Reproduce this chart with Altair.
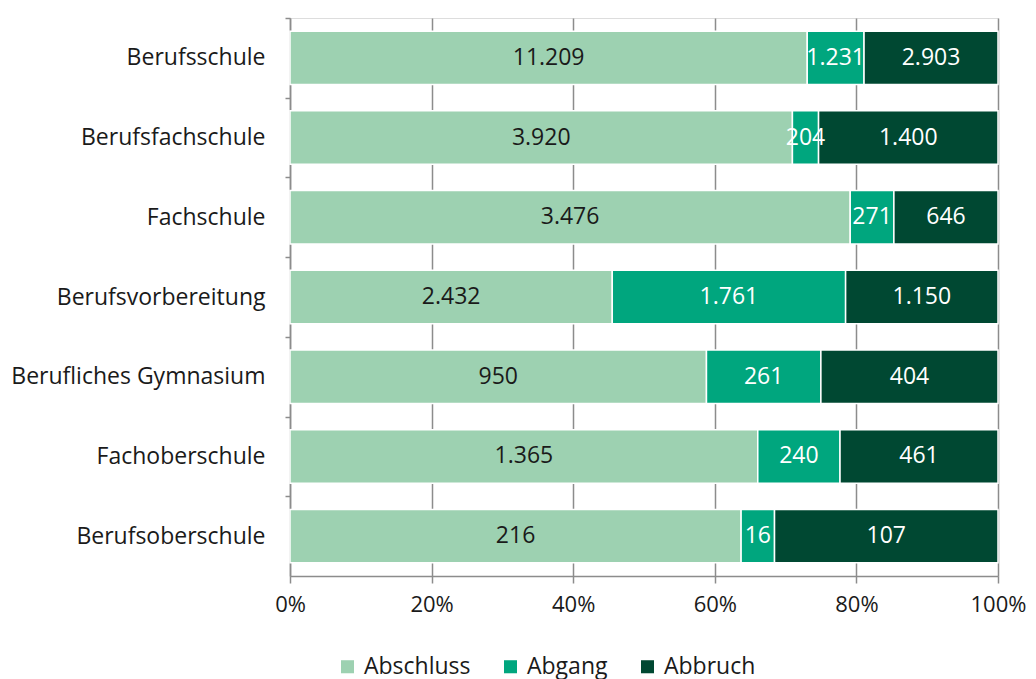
import altair as alt
import pandas as pd

categories = ["Berufsschule", "Berufsfachschule", "Fachschule", "Berufsvorbereitung",
              "Berufliches Gymnasium", "Fachoberschule", "Berufsoberschule"]
series = ["Abschluss", "Abgang", "Abbruch"]
abschluss = [11209, 3920, 3476, 2432, 950, 1365, 216]
abgang = [1231, 204, 271, 1761, 261, 240, 16]
abbruch = [2903, 1400, 646, 1150, 404, 461, 107]
colors = ["#9dd1b1", "#00a67e", "#004832"]
text_colors = ["#1a1a1a", "#ffffff", "#ffffff"]

rows = []
for i, cat in enumerate(categories):
    for j, (s, vals) in enumerate(zip(series, [abschluss, abgang, abbruch])):
        v = vals[i]
        rows.append({"Schulart": cat, "Art": s, "ord": j, "Wert": v,
                     "label": f"{v:,}".replace(",", ".")})
df = pd.DataFrame(rows)

FONT = "Open Sans"
FS = 23
H = 558
W = 708
STEP = H / 7.0

base = alt.Chart(df)

bars = base.mark_bar(stroke="white", strokeWidth=1.5).encode(
    y=alt.Y("Schulart:N", sort=categories, title=None,
            scale=alt.Scale(paddingInner=0.33, paddingOuter=0.165),
            axis=alt.Axis(labelFont=FONT, labelFontSize=FS, labelColor="#1a1a1a",
                          labelPadding=20, labelLimit=400,
                          domainColor="#8c8c8c", domainWidth=1.5,
                          tickColor="#8c8c8c", tickSize=5, tickWidth=1.5,
                          tickOffset=-STEP / 2, labelOffset=STEP / 2, grid=False)),
    x=alt.X("Wert:Q", stack="normalize", title=None,
            scale=alt.Scale(domain=[0, 1], nice=False),
            axis=alt.Axis(format=".0%", values=[0, 0.2, 0.4, 0.6, 0.8, 1.0],
                          labelFont=FONT, labelFontSize=22, labelColor="#1a1a1a",
                          labelFlush=False,
                          labelPadding=11, domainColor="#8c8c8c", domainWidth=1.5,
                          tickColor="#8c8c8c", tickSize=7, tickWidth=1.5,
                          grid=True, gridColor="#8c8c8c", gridWidth=1.5)),
    color=alt.Color("Art:N", sort=series, title=None,
                    scale=alt.Scale(domain=series, range=colors),
                    legend=alt.Legend(orient="none", direction="horizontal",
                                      legendX=46, legendY=637,
                                      symbolType="square", symbolSize=170,
                                      symbolStrokeWidth=0,
                                      labelFont=FONT, labelFontSize=FS,
                                      labelColor="#1a1a1a", columnPadding=28,
                                      labelOffset=5)),
    order=alt.Order("ord:Q"),
)

labels = base.transform_joinaggregate(
    total="sum(Wert)", groupby=["Schulart"]
).transform_calculate(
    share="datum.Wert / datum.total"
).transform_window(
    cum="sum(share)", sort=[alt.SortField("ord")], groupby=["Schulart"],
    frame=[None, 0]
).transform_calculate(
    mid="datum.cum - datum.share / 2"
).mark_text(font=FONT, fontSize=FS, baseline="middle", align="center").encode(
    y=alt.Y("Schulart:N", sort=categories),
    x=alt.X("mid:Q"),
    text="label:N",
    color=alt.Color("Art:N", scale=alt.Scale(domain=series, range=text_colors),
                    legend=None),
)

chart = alt.layer(bars, labels).resolve_scale(color="independent").properties(
    width=W, height=H,
    padding={"left": 2, "top": 9, "right": 0, "bottom": 5}
).configure_view(stroke="#8c8c8c", strokeWidth=1.5).configure(
    background="white"
)

chart.save("out.html", embed_options={"renderer": "svg", "actions": False})
